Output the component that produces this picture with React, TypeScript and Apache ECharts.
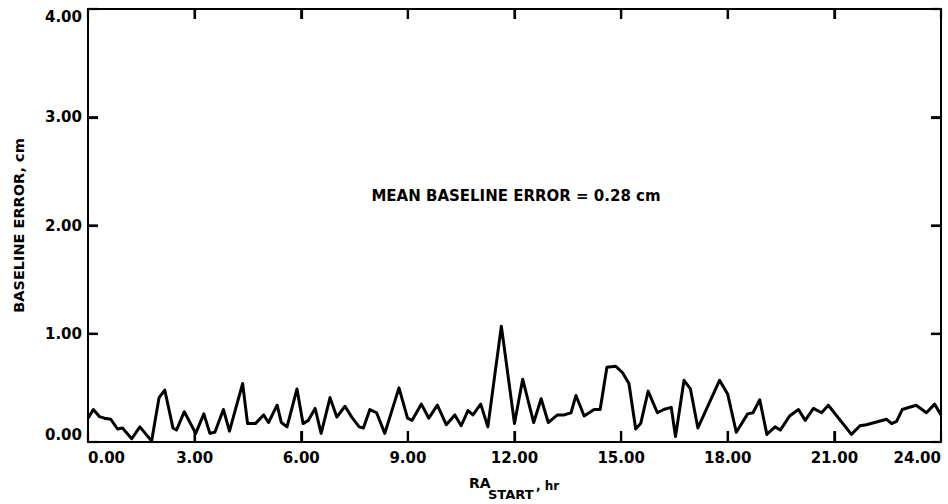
import React, { useEffect, useRef } from "react";
import * as echarts from "echarts";

const raStartHours = [
  0.0, 0.15, 0.32, 0.46, 0.64, 0.83, 0.97, 1.23, 1.46, 1.79, 2.0, 2.16, 2.39, 2.49, 2.71,
  3.03, 3.26, 3.43, 3.57, 3.81, 3.98, 4.35, 4.49, 4.71, 4.94, 5.08, 5.32, 5.44, 5.6, 5.88,
  6.05, 6.2, 6.39, 6.56, 6.81, 7.0, 7.23, 7.42, 7.63, 7.75, 7.93, 8.12, 8.35, 8.75, 8.99,
  9.12, 9.38, 9.59, 9.83, 10.08, 10.32, 10.5, 10.69, 10.83, 11.05, 11.25, 11.63, 12.0,
  12.23, 12.54, 12.75, 12.95, 13.21, 13.4, 13.59, 13.73, 13.96, 14.24, 14.41, 14.6, 14.85,
  15.04, 15.22, 15.41, 15.55, 15.76, 16.02, 16.2, 16.41, 16.53, 16.77, 16.95, 17.16, 17.77,
  18.0, 18.24, 18.56, 18.71, 18.9, 19.1, 19.33, 19.48, 19.74, 19.99, 20.18, 20.41, 20.64,
  20.83, 21.48, 21.72, 21.9, 22.47, 22.61, 22.75, 22.91, 23.3, 23.59, 23.82, 24.0,
];

const baselineErrorCm = [
  0.22, 0.3, 0.235, 0.22, 0.21, 0.12, 0.13, 0.03, 0.14, 0.01, 0.41, 0.48, 0.13, 0.11, 0.28,
  0.08, 0.26, 0.08, 0.09, 0.3, 0.1, 0.54, 0.17, 0.17, 0.25, 0.18, 0.34, 0.18, 0.14, 0.49,
  0.17, 0.2, 0.31, 0.08, 0.41, 0.23, 0.33, 0.23, 0.14, 0.13, 0.3, 0.27, 0.08, 0.5, 0.22,
  0.2, 0.35, 0.22, 0.34, 0.16, 0.25, 0.15, 0.29, 0.25, 0.35, 0.14, 1.07, 0.17,
  0.58, 0.18, 0.4, 0.18, 0.25, 0.25, 0.27, 0.43, 0.24, 0.3, 0.3, 0.69, 0.7,
  0.64, 0.54, 0.12, 0.17, 0.47, 0.27, 0.3, 0.32, 0.05, 0.57, 0.49, 0.13, 0.57,
  0.44, 0.09, 0.26, 0.27, 0.39, 0.07, 0.14, 0.11, 0.24, 0.3, 0.2, 0.31, 0.27,
  0.34, 0.07, 0.15, 0.16, 0.21, 0.17, 0.19, 0.3, 0.34, 0.27, 0.35, 0.25,
];

// inner tick positions drawn on the frame
const xTickHours = [3, 6, 9, 12, 15, 18, 21];
const yTickCm = [1, 2, 3];

const annotationText = "MEAN BASELINE ERROR = 0.28 cm";
const yAxisTitle = "BASELINE ERROR, cm";
const xTitleMain = "RA";
const xTitleSub = "START";
const xTitleUnit = ", hr";

const FONT = "DejaVu Sans";
const X_MIN = 0;
const X_MAX = 24;
const Y_MIN = 0;
const Y_MAX = 4;

export default function App() {
  const ref = useRef<HTMLDivElement>(null);

  useEffect(() => {
    if (!ref.current) return;
    const chart = echarts.init(ref.current, null, { renderer: "svg" });
    const data = raStartHours.map((h, i) => [h, baselineErrorCm[i]]);
    const axisLine = { show: true, onZero: false, lineStyle: { color: "#000", width: 2 } };
    const tickIn = (len: number) => ({
      show: true,
      inside: true,
      length: len,
      lineStyle: { color: "#000", width: 2.2 },
    });
    const fmt = (v: number) => v.toFixed(2);
    const xBase = { type: "value", min: X_MIN, max: X_MAX, interval: 3, splitLine: { show: false } };
    const yBase = { type: "value", min: Y_MIN, max: Y_MAX, interval: 1, splitLine: { show: false } };
    const tickSeries = (pts: number[][], size: number[], offset: number[]) => ({
      type: "scatter",
      xAxisIndex: 0,
      yAxisIndex: 0,
      data: pts,
      symbol: "rect",
      symbolSize: size,
      symbolOffset: offset,
      itemStyle: { color: "#000", opacity: 1 },
      silent: true,
      clip: false,
      z: 5,
    });
    chart.setOption({
      animation: false,
      backgroundColor: "#fff",
      grid: {
        left: 88,
        top: 9,
        right: 7,
        bottom: 62,
        containLabel: false,
        outerBoundsMode: "none",
      },
      xAxis: [
        {
          ...xBase,
          position: "bottom",
          axisLine,
          axisTick: tickIn(11),
          axisLabel: {
            formatter: fmt,
            color: "#000",
            fontFamily: FONT,
            fontWeight: "bold",
            fontSize: 15,
            margin: 8,
            alignMinLabel: "left",
            alignMaxLabel: "right",
          },
        },
        {
          ...xBase,
          position: "top",
          axisLine,
          axisTick: tickIn(10),
          axisLabel: { show: false },
        },
      ],
      yAxis: [
        {
          ...yBase,
          position: "left",
          axisLine,
          axisTick: tickIn(10),
          axisLabel: {
            formatter: fmt,
            color: "#000",
            fontFamily: FONT,
            fontWeight: "bold",
            fontSize: 15,
            margin: 6,
            verticalAlignMinLabel: "bottom",
            verticalAlignMaxLabel: "top",
          },
          name: yAxisTitle,
          nameLocation: "middle",
          nameGap: 62,
          nameTextStyle: {
            color: "#000",
            fontFamily: FONT,
            fontWeight: "bold",
            fontSize: 14.5,
          },
        },
        {
          ...yBase,
          position: "right",
          axisLine,
          axisTick: tickIn(10),
          axisLabel: { show: false },
        },
      ],
      graphic: [
        {
          type: "text",
          x: 516,
          y: 196,
          style: {
            text: annotationText,
            fill: "#000",
            font: `bold 15px "${FONT}"`,
            textAlign: "center",
            textVerticalAlign: "middle",
          },
        },
        {
          type: "text",
          x: 469,
          y: 490,
          style: {
            text: xTitleMain,
            fill: "#000",
            font: `bold 14px "${FONT}"`,
            textAlign: "left",
            textVerticalAlign: "bottom",
          },
        },
        {
          type: "text",
          x: 488,
          y: 501,
          style: {
            text: xTitleSub,
            fill: "#000",
            font: `bold 13px "${FONT}"`,
            textAlign: "left",
            textVerticalAlign: "bottom",
          },
        },
        {
          type: "text",
          x: 536,
          y: 492,
          style: {
            text: xTitleUnit,
            fill: "#000",
            font: `bold 12px "${FONT}"`,
            textAlign: "left",
            textVerticalAlign: "bottom",
          },
        },
      ],
      series: [
        {
          type: "line",
          xAxisIndex: 0,
          yAxisIndex: 0,
          data,
          showSymbol: false,
          symbol: "none",
          lineStyle: { color: "#000", width: 3, join: "round" },
          z: 3,
        },
        tickSeries(xTickHours.map((h) => [h, Y_MIN]), [2.2, 11], [0, -5.5]),
        tickSeries(xTickHours.map((h) => [h, Y_MAX]), [2.2, 10], [0, 5]),
        tickSeries(yTickCm.map((v) => [X_MIN, v]), [10, 2.2], [5, 0]),
        tickSeries(yTickCm.map((v) => [X_MAX, v]), [10, 2.2], [-5, 0]),
      ],
    });
    return () => chart.dispose();
  }, []);

  return (
    <div
      ref={ref}
      style={{ position: "fixed", left: 0, top: 0, width: 948, height: 504 }}
    />
  );
}
